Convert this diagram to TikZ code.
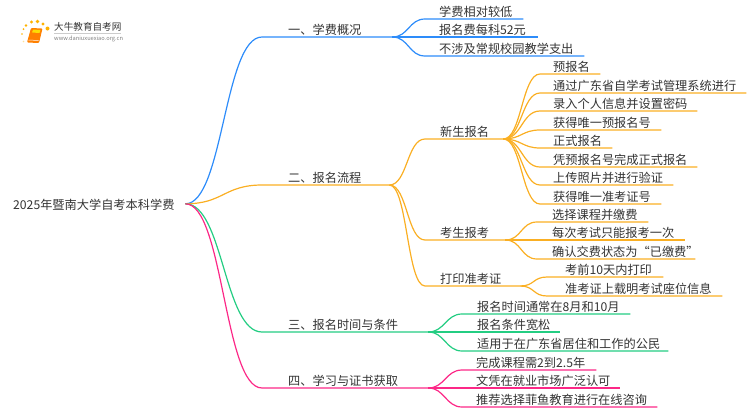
\documentclass[tikz,border=0pt]{standalone}
\usepackage{fontspec}
\setmainfont{Noto Sans CJK SC}
\definecolor{feeblue}{RGB}{45,140,250}
\definecolor{steporange}{RGB}{250,175,35}
\definecolor{timegreen}{RGB}{35,205,130}
\definecolor{certpink}{RGB}{252,40,135}
\definecolor{booktext}{RGB}{51,51,51}
\tikzset{
  item/.style={anchor=south west, inner xsep=0pt, inner ysep=0pt, text width=#1,
    text height=10pt, text depth=2pt, align=left, text=booktext, font=\fontsize{12.2}{12}\selectfont},
  gap/.style={execute at begin node={\hspace*{#1}}},
  link/.style={line width=1.2pt},
}

\begin{document}
\begin{tikzpicture}[x=1pt,y=-1pt]
  \useasboundingbox (0,0) rectangle (750,410);
  % logo
  \begin{scope}[orange!60!yellow]
    \fill (23.5,29) circle (1pt);
    \fill (22,34) circle (0.8pt);
    \fill (26,25.5) circle (1.4pt);
    \fill (31.5,22) circle (1.7pt);
    \fill (37.5,21.5) circle (1.8pt);
    \fill (43,24) circle (1.7pt);
    \fill (47.5,28.5) circle (2pt);
    \fill[opacity=0.4] (23.5,41.5) circle (0.9pt);
    \fill[orange, rounded corners=1pt] (31,28) -- (42.5,28.5) -- (39,43) -- (27,42.5) -- cycle;
    \fill[yellow!80!orange, rounded corners=0.5pt] (33,29.5) -- (40.5,30) -- (39.5,33) -- (32,32.5) -- cycle;
    \draw[white, line width=0.5pt] (28.5,40) -- (38.5,40.5);
  \end{scope}
  \node[anchor=west, inner sep=0pt, text=booktext, font=\fontsize{9.6}{10}\selectfont] (logoname) at (54,27) {大牛教育自考网};
  \node[anchor=west, inner sep=0pt, text=gray, font=\fontsize{5.7}{6}\selectfont] (logourl) at (54,38.5) {www.daniuxuexiao.org.cn};
  \draw[gray!40, line width=0.4pt] (logoname.south west) ++(0,1.5) -- ++(67,0);

  \node[item=172pt, text height=13pt] (root) at (13,211.5) {2025年暨南大学自考本科学费};
  \coordinate (fork) at (root.east);

  % fee
  \begin{scope}[feeblue]
    \node[item=130pt, gap=26pt] (fee) at (262,37) {一、学费概况};
    \node[item=98pt, gap=14pt] (fee1) at (425,19) {学费相对较低};
    \node[item=113pt, gap=14pt] (fee2) at (425,37) {报名费每科52元};
    \node[item=159pt, gap=14pt] (fee3) at (425,56) {不涉及常规校园教学支出};
    \draw[link] (fork) .. controls +(38,0) and +(-38,0) .. (fee.south west) -- (fee.south east);
    \draw[link] (fee.south east) .. controls +(16,0) and +(-16,0) .. (fee1.south west) -- (fee1.south east);
    \draw[link] (fee.south east) -- (fee2.south west) -- (fee2.south east);
    \draw[link] (fee.south east) .. controls +(16,0) and +(-16,0) .. (fee3.south west) -- (fee3.south east);
  \end{scope}

  % steps
  \begin{scope}[steporange]
    \node[item=127pt, gap=26pt] (apply) at (262,185) {二、报名流程};
    \node[item=78pt, gap=15pt] (new) at (425,139) {新生报名};
    \node[item=80pt, gap=15pt] (exam) at (425,240) {考生报考};
    \node[item=95pt, gap=15pt] (print) at (425,286) {打印准考证};
    \draw[link] (fork) .. controls +(38,0) and +(-38,0) .. (apply.south west) -- (apply.south east);
    \draw[link] (apply.south east) .. controls +(18,0) and +(-18,0) .. (new.south west) -- (new.south east);
    \draw[link] (apply.south east) .. controls +(18,0) and +(-18,0) .. (exam.south west) -- (exam.south east);
    \draw[link] (apply.south east) .. controls +(18,0) and +(-18,0) .. (print.south west) -- (print.south east);

    \node[item=60pt, gap=13pt] (new1) at (540,74) {预报名};
    \node[item=206pt, gap=13pt] (new2) at (540,93) {通过广东省自学考试管理系统进行};
    \node[item=157pt, gap=13pt] (new3) at (540,111) {录入个人信息并设置密码};
    \node[item=121pt, gap=13pt] (new4) at (540,130) {获得唯一预报名号};
    \node[item=72pt, gap=13pt] (new5) at (540,148) {正式报名};
    \node[item=157pt, gap=13pt] (new6) at (540,167) {凭预报名号完成正式报名};
    \node[item=133pt, gap=13pt] (new7) at (540,185) {上传照片并进行验证};
    \node[item=121pt, gap=13pt] (new8) at (540,204) {获得唯一准考证号};
    \draw[link] (new.south east) .. controls +(18,0) and +(-18,0) .. (new1.south west) -- (new1.south east);
    \draw[link] (new.south east) .. controls +(18,0) and +(-18,0) .. (new2.south west) -- (new2.south east);
    \draw[link] (new.south east) .. controls +(18,0) and +(-18,0) .. (new3.south west) -- (new3.south east);
    \draw[link] (new.south east) .. controls +(18,0) and +(-18,0) .. (new4.south west) -- (new4.south east);
    \draw[link] (new.south east) .. controls +(18,0) and +(-18,0) .. (new5.south west) -- (new5.south east);
    \draw[link] (new.south east) .. controls +(18,0) and +(-18,0) .. (new6.south west) -- (new6.south east);
    \draw[link] (new.south east) .. controls +(18,0) and +(-18,0) .. (new7.south west) -- (new7.south east);
    \draw[link] (new.south east) .. controls +(18,0) and +(-18,0) .. (new8.south west) -- (new8.south east);

    \node[item=111pt, gap=15pt] (exam1) at (537,222) {选择课程并缴费};
    \node[item=148pt, gap=15pt] (exam2) at (537,240) {每次考试只能报考一次};
    \node[item=158pt, gap=15pt] (exam3) at (537,259) {确认交费状态为“已缴费”};
    \draw[link] (exam.south east) .. controls +(16,0) and +(-16,0) .. (exam1.south west) -- (exam1.south east);
    \draw[link] (exam.south east) -- (exam2.south west) -- (exam2.south east);
    \draw[link] (exam.south east) .. controls +(16,0) and +(-16,0) .. (exam3.south west) -- (exam3.south east);

    \node[item=116pt, gap=18pt] (print1) at (547,277) {考前10天内打印};
    \node[item=175pt, gap=18pt] (print2) at (547,296) {准考证上载明考试座位信息};
    \draw[link] (print.south east) .. controls +(14,0) and +(-14,0) .. (print1.south west) -- (print1.south east);
    \draw[link] (print.south east) .. controls +(14,0) and +(-14,0) .. (print2.south west) -- (print2.south east);
  \end{scope}

  % dates
  \begin{scope}[timegreen]
    \node[item=166pt, gap=26pt] (date) at (262,332) {三、报名时间与条件};
    \node[item=168pt, gap=15pt] (date1) at (462,314) {报名时间通常在8月和10月};
    \node[item=98pt, gap=15pt] (date2) at (462,332) {报名条件宽松};
    \node[item=206pt, gap=15pt] (date3) at (462,351) {适用于在广东省居住和工作的公民};
    \draw[link] (fork) .. controls +(38,0) and +(-38,0) .. (date.south west) -- (date.south east);
    \draw[link] (date.south east) .. controls +(16,0) and +(-16,0) .. (date1.south west) -- (date1.south east);
    \draw[link] (date.south east) -- (date2.south west) -- (date2.south east);
    \draw[link] (date.south east) .. controls +(16,0) and +(-16,0) .. (date3.south west) -- (date3.south east);
  \end{scope}

  % study
  \begin{scope}[certpink]
    \node[item=166pt, gap=26pt] (cert) at (262,388) {四、学习与证书获取};
    \node[item=134pt, gap=14pt] (cert1) at (462,370) {完成课程需2到2.5年};
    \node[item=158pt, gap=14pt] (cert2) at (462,388) {文凭在就业市场广泛认可};
    \node[item=195pt, gap=14pt] (cert3) at (462,407) {推荐选择菲鱼教育进行在线咨询};
    \draw[link] (fork) .. controls +(38,0) and +(-38,0) .. (cert.south west) -- (cert.south east);
    \draw[link] (cert.south east) .. controls +(16,0) and +(-16,0) .. (cert1.south west) -- (cert1.south east);
    \draw[link] (cert.south east) -- (cert2.south west) -- (cert2.south east);
    \draw[link] (cert.south east) .. controls +(16,0) and +(-16,0) .. (cert3.south west) -- (cert3.south east);
  \end{scope}
\end{tikzpicture}
\end{document}
